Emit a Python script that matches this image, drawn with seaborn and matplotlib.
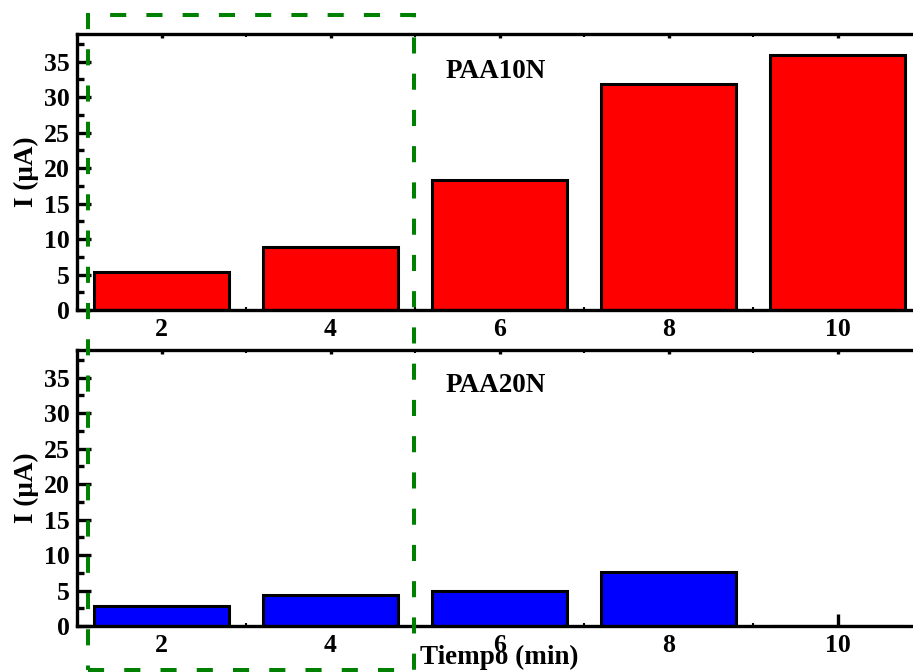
import numpy as np
import pandas as pd
import matplotlib
matplotlib.use("Agg")
import matplotlib.pyplot as plt
from matplotlib.patches import Rectangle
from matplotlib.ticker import MultipleLocator
import seaborn as sns

# Data
tiempo = [2, 4, 6, 8, 10]
paa10n = [5.35, 8.9, 18.3, 31.8, 36.0]
paa20n = [2.8, 4.3, 5.0, 7.55, 0.0]
series_names = ["PAA10N", "PAA20N"]
series_colors = ["#ff0000", "#0000ff"]
ylabel = "I (\u03bcA)"
xlabel = "Tiempo (min)"

sns.set_theme(style="white")
plt.rcParams['font.family'] = ['Liberation Serif', 'DejaVu Serif']
plt.rcParams['font.weight'] = 'bold'
plt.rcParams['text.color'] = 'black'
plt.rcParams['axes.labelcolor'] = 'black'
plt.rcParams['xtick.color'] = 'black'
plt.rcParams['ytick.color'] = 'black'

W, H = 913, 672
fig = plt.figure(figsize=(W / 100, H / 100), dpi=100)

def px_axes(left, top, right, bottom):
    return fig.add_axes([left / W, 1 - bottom / H, (right - left) / W, (bottom - top) / H])

ax1 = px_axes(77, 34, 77 + 845, 310)
ax2 = px_axes(77, 350, 77 + 845, 626)

text_y = [32.7, 33.0]
for ax, vals, name, col, ty in zip([ax1, ax2], [paa10n, paa20n], series_names, series_colors, text_y):
    df = pd.DataFrame({"t": tiempo, "I": vals})
    sns.barplot(data=df, x="t", y="I", native_scale=True, width=0.8, color=col,
                saturation=1, edgecolor="black", linewidth=2.2, ax=ax, zorder=2)
    ax.set_xlim(1, 11)
    ax.set_ylim(0, 38.9)
    ax.set_xticks(tiempo)
    ax.set_xticklabels([str(t) for t in tiempo])
    ax.xaxis.set_minor_locator(MultipleLocator(1))
    ax.yaxis.set_major_locator(MultipleLocator(5))
    ax.yaxis.set_minor_locator(MultipleLocator(2.5))
    ax.tick_params(axis='x', which='major', direction='in', bottom=True, top=True,
                   length=9, width=2.4, labelsize=18.5, pad=6, color='black', labelcolor='black')
    ax.tick_params(axis='x', which='minor', direction='in', bottom=True, top=True,
                   length=2.5, width=1.5, color='black')
    ax.tick_params(axis='y', which='major', direction='in', left=True, right=False,
                   length=10, width=2.4, labelsize=18.5, pad=5, color='black', labelcolor='black')
    ax.tick_params(axis='y', which='minor', direction='in', left=True, right=False,
                   length=5, width=2.4, color='black')
    for lab in ax.get_xticklabels() + ax.get_yticklabels():
        lab.set_fontweight('bold')
    for s in ax.spines.values():
        s.set_linewidth(2.4)
        s.set_color('black')
        s.set_zorder(3)
    ax.set_xlabel("")
    ax.set_ylabel(ylabel, fontsize=19.5, fontweight='bold', labelpad=4, color='black')
    ax.text(5.367, ty, name, fontsize=19.5, fontweight='bold', ha='left', va='baseline',
            color='black')
    ax.grid(False)

# make top-axis x ticks short
for ax in [ax1, ax2]:
    for t in ax.xaxis.get_major_ticks():
        t.tick2line.set_markersize(3)

fig.text(499.5 / W, 1 - 657 / H, xlabel, fontsize=19.5, fontweight='bold',
         ha='center', va='center', color='black')

# Green dashed highlight rectangle
rect = Rectangle((88 / W, 1 - 670 / H), (414 - 88) / W, (670 - 15) / H,
                 transform=fig.transFigure, fill=False, edgecolor='green',
                 linewidth=2.9, linestyle=(0, (4, 5)), clip_on=False, zorder=10)
fig.add_artist(rect)

fig.savefig("out.png", dpi=100)
